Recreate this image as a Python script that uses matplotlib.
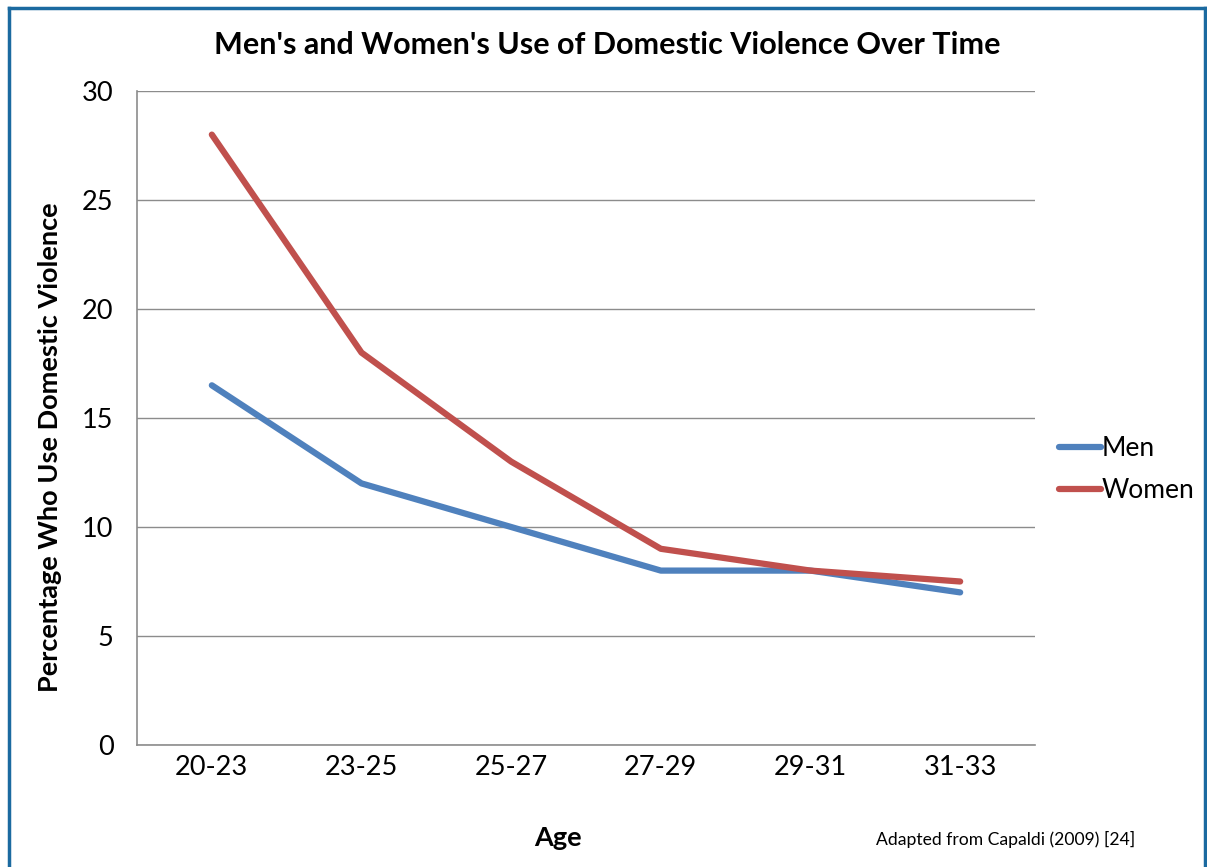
import numpy as np
import matplotlib.pyplot as plt
from matplotlib.lines import Line2D

plt.rcParams['font.family'] = ['Lato', 'DejaVu Sans']

# Datos
age_groups = ['20-23', '23-25', '25-27', '27-29', '29-31', '31-33']
men = [16.5, 12, 10, 8, 8, 7]
women = [28, 18, 13, 9, 8, 7.5]
y_ticks = [0, 5, 10, 15, 20, 25, 30]

W, H = 1207, 867
fig = plt.figure(figsize=(W / 100, H / 100), dpi=100)
ax = fig.add_axes([137 / W, 1 - 745 / H, (1035 - 137) / W, (745 - 91) / H])

x = np.arange(len(age_groups))
ax.plot(x, men, color='#4F81BD', linewidth=4.5, solid_capstyle='round',
        solid_joinstyle='round', label='Men', zorder=3)
ax.plot(x, women, color='#C0504D', linewidth=4.5, solid_capstyle='round',
        solid_joinstyle='round', label='Women', zorder=3)

ax.set_xlim(-0.5, len(age_groups) - 0.5)
ax.set_ylim(0, 30)
ax.set_yticks(y_ticks)
ax.set_xticks(x)
ax.set_xticklabels(age_groups)
ax.tick_params(axis='both', length=0, labelsize=19.5)
ax.tick_params(axis='x', pad=7)
ax.tick_params(axis='y', pad=17)
ax.yaxis.grid(True, color='#8c8c8c', linewidth=1)
ax.set_axisbelow(True)

for s in ['top', 'right']:
    ax.spines[s].set_visible(False)
for s in ['left', 'bottom']:
    ax.spines[s].set_color('#8c8c8c')
    ax.spines[s].set_linewidth(1.2)

ax.set_xlabel('Age', fontsize=19.5, fontweight='bold')
ax.xaxis.set_label_coords(0.469, -0.124)
ax.set_ylabel('Percentage Who Use Domestic Violence', fontsize=19.5,
              fontweight='bold')
ax.yaxis.set_label_coords(-0.0835, 0.456)

fig.text(607 / W, 1 - 45 / H, "Men's and Women's Use of Domestic Violence Over Time",
         ha='center', va='center', fontsize=22, fontweight='bold')

leg = ax.legend(loc='center left', bbox_to_anchor=(1.027, 0.421), frameon=False,
                fontsize=19, handlelength=1.6, handletextpad=0.0,
                labelspacing=0.65, borderpad=0, borderaxespad=0)

fig.text(876 / W, 1 - 839 / H, 'Adapted from Capaldi (2009) [24]',
         ha='left', va='center', fontsize=12.6)

# Borde azul
bc = '#1B6AA0'
fig.add_artist(Line2D([9 / W, 9 / W], [0, 1 - 8 / H], color=bc, linewidth=2.5,
                      transform=fig.transFigure))
fig.add_artist(Line2D([9 / W, 1205 / W], [1 - 8 / H, 1 - 8 / H], color=bc,
                      linewidth=2.5, transform=fig.transFigure))
fig.add_artist(Line2D([1205 / W, 1205 / W], [0, 1 - 8 / H], color=bc,
                      linewidth=2.5, transform=fig.transFigure))

fig.savefig('out.png', dpi=100, facecolor='white')
